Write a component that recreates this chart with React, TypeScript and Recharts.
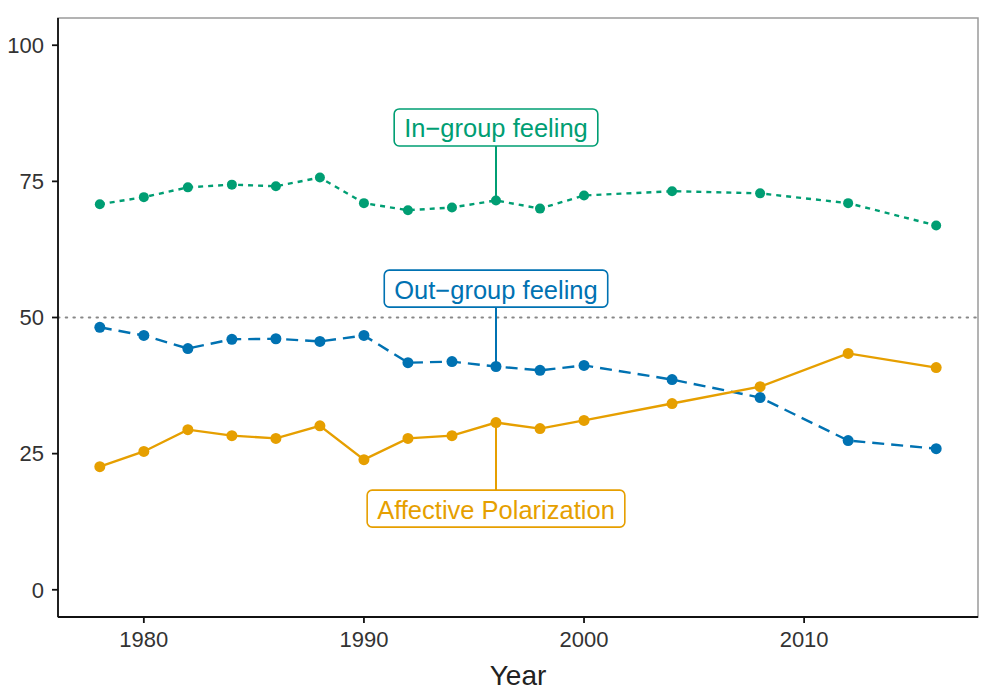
import React, { useLayoutEffect, useRef, useState } from 'react';
import {
  LineChart,
  Line,
  XAxis,
  YAxis,
  ReferenceLine,
  ReferenceArea,
  ReferenceDot,
} from 'recharts';

const years = [1978, 1980, 1982, 1984, 1986, 1988, 1990, 1992, 1994, 1996, 1998, 2000, 2004, 2008, 2012, 2016];
const inGroup = [70.8, 72.1, 73.9, 74.4, 74.1, 75.7, 71.0, 69.7, 70.2, 71.5, 70.0, 72.4, 73.2, 72.8, 71.0, 66.9];
const outGroup = [48.2, 46.7, 44.3, 46.0, 46.1, 45.6, 46.7, 41.7, 41.9, 41.0, 40.3, 41.2, 38.6, 35.3, 27.4, 25.9];
const affective = [22.6, 25.4, 29.4, 28.3, 27.8, 30.1, 23.9, 27.8, 28.3, 30.7, 29.6, 31.1, 34.2, 37.3, 43.4, 40.8];

const xTicks = [1980, 1990, 2000, 2010];
const yTicks = [0, 25, 50, 75, 100];

const labelYear = 1996;
const labels = [
  { text: 'In\u2212group feeling', at: 84.9, point: 71.5, color: '#009E73' },
  { text: 'Out\u2212group feeling', at: 55.3, point: 41.0, color: '#0072B2' },
  { text: 'Affective Polarization', at: 14.9, point: 30.7, color: '#E69F00' },
];

const data = years.map((year, i) => ({
  year,
  inGroup: inGroup[i],
  outGroup: outGroup[i],
  affective: affective[i],
}));

const font = '"Liberation Sans", Arial, sans-serif';

const LabelBox = ({ cx, cy, text, color }: any) => {
  const ref = useRef<SVGTextElement>(null);
  const [w, setW] = useState(text.length * 12);
  useLayoutEffect(() => {
    if (ref.current) setW(ref.current.getComputedTextLength());
  }, [text]);
  const padX = 10;
  const h = 37;
  return (
    <g>
      <rect
        x={cx - w / 2 - padX}
        y={cy - h / 2}
        width={w + padX * 2}
        height={h}
        rx={5}
        fill="#fff"
        stroke={color}
        strokeWidth={1.6}
      />
      <text
        ref={ref}
        x={cx}
        y={cy + 1}
        textAnchor="middle"
        dominantBaseline="central"
        fill={color}
        fontSize={25.5}
        fontFamily={font}
      >
        {text}
      </text>
    </g>
  );
};

export default function App() {
  return (
    <div style={{ position: 'absolute', left: 0, top: 0, background: '#fff' }}>
      <LineChart
        width={1000}
        height={697}
        data={data}
        margin={{ top: 18, right: 22, left: 0, bottom: 0 }}
      >
        <ReferenceArea
          x1={1976.1}
          x2={2017.9}
          y1={-5}
          y2={105}
          fill="none"
          stroke="#9a9a9a"
          strokeWidth={1.5}
        />
        <XAxis
          dataKey="year"
          type="number"
          domain={[1976.1, 2017.9]}
          ticks={xTicks}
          allowDataOverflow
          height={80}
          stroke="#111"
          strokeWidth={1.8}
          tickSize={6}
          tick={{ fontSize: 22, fill: '#333', fontFamily: font, dy: 6 }}
          label={{ value: 'Year', position: 'insideBottom', offset: 12, fontSize: 28, fill: '#222', fontFamily: font }}
        />
        <YAxis
          type="number"
          domain={[-5, 105]}
          ticks={yTicks}
          allowDataOverflow
          width={58}
          stroke="#111"
          strokeWidth={1.8}
          tickSize={6}
          tick={{ fontSize: 22, fill: '#333', fontFamily: font, dx: -6 }}
        />
        <ReferenceLine y={50} stroke="#888" strokeWidth={2} strokeDasharray="1.5 6.2" strokeLinecap="round" />
        <Line
          dataKey="inGroup"
          stroke="#009E73"
          strokeWidth={2.4}
          strokeDasharray="5 5"
          dot={{ r: 5, fill: '#009E73', stroke: '#009E73', strokeWidth: 0 }}
          activeDot={false}
          isAnimationActive={false}
        />
        <Line
          dataKey="outGroup"
          stroke="#0072B2"
          strokeWidth={2.4}
          strokeDasharray="12 7"
          dot={{ r: 5.5, fill: '#0072B2', stroke: '#0072B2', strokeWidth: 0 }}
          activeDot={false}
          isAnimationActive={false}
        />
        <Line
          dataKey="affective"
          stroke="#E69F00"
          strokeWidth={2.4}
          dot={{ r: 5.5, fill: '#E69F00', stroke: '#E69F00', strokeWidth: 0 }}
          activeDot={false}
          isAnimationActive={false}
        />
        {labels.map((l) => (
          <ReferenceLine
            key={'c' + l.text}
            segment={[
              { x: labelYear, y: l.point },
              { x: labelYear, y: l.at },
            ]}
            stroke={l.color}
            strokeWidth={2}
          />
        ))}
        {labels.map((l) => (
          <ReferenceDot
            key={'l' + l.text}
            x={labelYear}
            y={l.at}
            r={0}
            shape={(p: any) => <LabelBox cx={p.cx} cy={p.cy} text={l.text} color={l.color} />}
          />
        ))}
      </LineChart>
    </div>
  );
}
